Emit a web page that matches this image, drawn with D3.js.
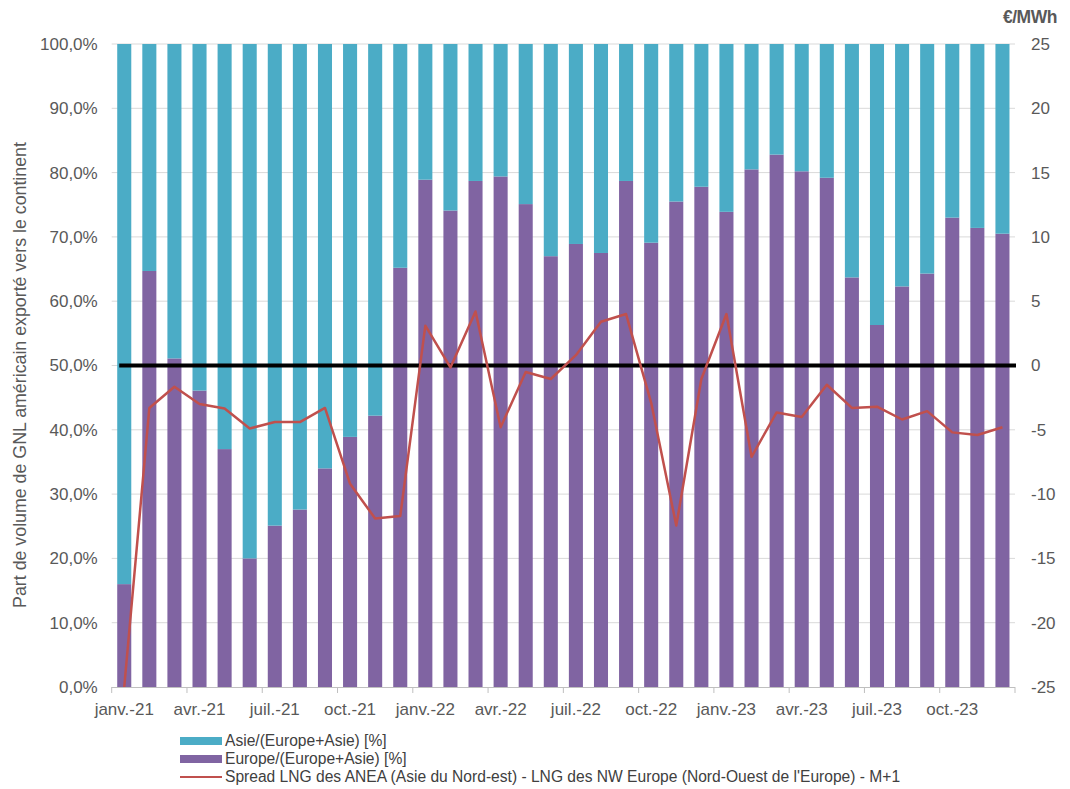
<!DOCTYPE html>
<html>
<head>
<meta charset="utf-8">
<script src="https://cdn.jsdelivr.net/npm/d3@7"></script>
<style>
  html, body { margin: 0; padding: 0; background: #fff; }
  svg { display: block; }
  .tick-label { font-family: "Liberation Sans", Arial, sans-serif; font-size: 17px; fill: #595959; }
  .legend-text { font-family: "Liberation Sans", Arial, sans-serif; font-size: 15.6px; fill: #404040; }
</style>
</head>
<body>
<svg id="chart" width="1070" height="789"></svg>
<script>
// Months (Jan 2021 – Dec 2023)
const months = [
  "janv.-21","févr.-21","mars-21","avr.-21","mai-21","juin-21","juil.-21","août-21","sept.-21","oct.-21","nov.-21","déc.-21",
  "janv.-22","févr.-22","mars-22","avr.-22","mai-22","juin-22","juil.-22","août-22","sept.-22","oct.-22","nov.-22","déc.-22",
  "janv.-23","févr.-23","mars-23","avr.-23","mai-23","juin-23","juil.-23","août-23","sept.-23","oct.-23","nov.-23","déc.-23"
];

// Europe share of US LNG exports (Europe + Asia), in %
const europeShare = [
  16.0, 64.7, 51.1, 46.1, 37.0, 20.0, 25.1, 27.6, 34.0, 38.9, 42.2, 65.2,
  78.9, 74.1, 78.7, 79.4, 75.1, 67.0, 68.9, 67.5, 78.7, 69.1, 75.5, 77.8,
  73.9, 80.5, 82.8, 80.2, 79.2, 63.7, 56.3, 62.3, 64.3, 73.0, 71.4, 70.5
];

// Asia share = complement to 100 %
const asiaShare = europeShare.map(v => 100 - v);

// Spread NE Asia LNG - NW Europe LNG, M+1, in €/MWh
const spread = [
  -25.0, -3.3, -1.65, -3.0, -3.35, -4.9, -4.4, -4.4, -3.3, -9.2, -11.9, -11.7,
  3.1, -0.15, 4.2, -4.8, -0.5, -1.05, 0.8, 3.4, 4.0, -2.9, -12.45, -1.05,
  4.0, -7.1, -3.65, -4.0, -1.5, -3.3, -3.2, -4.2, -3.55, -5.2, -5.4, -4.8
];

// Axis ticks
const leftTicks = [0, 10, 20, 30, 40, 50, 60, 70, 80, 90, 100];
const rightTicks = [-25, -20, -15, -10, -5, 0, 5, 10, 15, 20, 25];
const shownMonths = months.filter((m, i) => i % 3 === 0);

// Series labels
const seriesNames = [
  "Asie/(Europe+Asie) [%]",
  "Europe/(Europe+Asie) [%]",
  "Spread LNG des ANEA (Asie du Nord-est) - LNG des NW Europe (Nord-Ouest de l'Europe) - M+1"
];
const colors = { asia: "#4BACC6", europe: "#8064A2", spread: "#C0504D" };

const svg = d3.select("#chart");
const plot = { left: 111.7, right: 1015, top: 44, bottom: 687 };

const pad = 0.44;
const x = d3.scaleBand()
  .domain(months)
  .range([plot.left, plot.right])
  .paddingInner(pad)
  .paddingOuter(pad / 2);
const step = x.step();

const yLeft = d3.scaleLinear().domain([0, 100]).range([plot.bottom, plot.top]);
const yRight = d3.scaleLinear().domain([-25, 25]).range([plot.bottom, plot.top]);

// Horizontal gridlines
svg.append("g")
  .selectAll("line")
  .data(leftTicks.filter(t => t > 0))
  .join("line")
  .attr("x1", plot.left).attr("x2", plot.right)
  .attr("y1", d => yLeft(d)).attr("y2", d => yLeft(d))
  .attr("stroke", "#D9D9D9").attr("stroke-width", 1);

// Stacked bars
const rows = months.map((m, i) => ({ month: m, europe: europeShare[i], asia: asiaShare[i] }));
const stack = d3.stack().keys(["europe", "asia"])(rows);

svg.append("g")
  .selectAll("g")
  .data(stack)
  .join("g")
  .attr("fill", d => colors[d.key])
  .selectAll("rect")
  .data(d => d)
  .join("rect")
  .attr("x", d => x(d.data.month))
  .attr("width", x.bandwidth())
  .attr("y", d => yLeft(d[1]))
  .attr("height", d => yLeft(d[0]) - yLeft(d[1]));

// Bottom axis line and tick marks at every third month boundary
svg.append("line")
  .attr("x1", plot.left).attr("x2", plot.right)
  .attr("y1", plot.bottom + 0.5).attr("y2", plot.bottom + 0.5)
  .attr("stroke", "#BFBFBF").attr("stroke-width", 1);

const boundaryTicks = d3.range(0, months.length + 1, 3).map(i => plot.left + i * step);
svg.append("g")
  .selectAll("line")
  .data(boundaryTicks)
  .join("line")
  .attr("x1", d => d).attr("x2", d => d)
  .attr("y1", plot.bottom).attr("y2", plot.bottom + 6)
  .attr("stroke", "#BFBFBF").attr("stroke-width", 1);

// Month labels
const xAxis = d3.axisBottom(x).tickValues(shownMonths).tickSize(0).tickPadding(16);
const gx = svg.append("g").attr("transform", `translate(0,${plot.bottom})`).call(xAxis);
gx.select(".domain").remove();
gx.selectAll("text").attr("class", "tick-label").attr("font-family", null).attr("font-size", null);

// Left axis labels
const yAxisL = d3.axisLeft(yLeft).tickValues(leftTicks).tickSize(0).tickPadding(14)
  .tickFormat(d => d3.format(".1f")(d).replace(".", ",") + "%");
const gl = svg.append("g").attr("transform", `translate(${plot.left},0)`).call(yAxisL);
gl.select(".domain").remove();
gl.selectAll("text").attr("class", "tick-label").attr("font-family", null).attr("font-size", null);

// Right axis labels
const yAxisR = d3.axisRight(yRight).tickValues(rightTicks).tickSize(0).tickPadding(16)
  .tickFormat(d => String(d));
const gr = svg.append("g").attr("transform", `translate(${plot.right},0)`).call(yAxisR);
gr.select(".domain").remove();
gr.selectAll("text").attr("class", "tick-label").attr("font-family", null).attr("font-size", null);

// Right axis unit
svg.append("text")
  .attr("x", 1003).attr("y", 23)
  .attr("class", "tick-label")
  .attr("font-weight", "bold")
  .style("font-size", "17.5px")
  .style("letter-spacing", "-0.5px")
  .text("€/MWh");

// Left axis title
svg.append("text")
  .attr("transform", `translate(26,375) rotate(-90)`)
  .attr("text-anchor", "middle")
  .attr("class", "tick-label")
  .style("font-size", "17.8px")
  .text("Part de volume de GNL américain exporté vers le continent");

// Zero reference line
svg.append("line")
  .attr("x1", x(months[0]) + 2).attr("x2", plot.right + 1)
  .attr("y1", yRight(0)).attr("y2", yRight(0))
  .attr("stroke", "#000").attr("stroke-width", 4);

// Spread line
const line = d3.line()
  .x((d, i) => x(months[i]) + x.bandwidth() / 2)
  .y(d => yRight(d));
svg.append("path")
  .datum(spread)
  .attr("fill", "none")
  .attr("stroke", colors.spread)
  .attr("stroke-width", 2.5)
  .attr("stroke-linejoin", "round")
  .attr("d", line);

// Legend
const legend = svg.append("g").attr("transform", "translate(180,741)");
const legendItems = [
  { name: seriesNames[0], color: colors.asia, type: "bar" },
  { name: seriesNames[1], color: colors.europe, type: "bar" },
  { name: seriesNames[2], color: colors.spread, type: "line" }
];
const li = legend.selectAll("g").data(legendItems).join("g")
  .attr("transform", (d, i) => `translate(0,${i * 18})`);
li.filter(d => d.type === "bar").append("rect")
  .attr("x", 0).attr("y", -4).attr("width", 42).attr("height", 8)
  .attr("fill", d => d.color);
li.filter(d => d.type === "line").append("line")
  .attr("x1", 0).attr("x2", 42).attr("y1", 0).attr("y2", 0)
  .attr("stroke", d => d.color).attr("stroke-width", 2);
li.append("text")
  .attr("x", 45).attr("y", 0).attr("dy", "0.35em")
  .attr("class", "legend-text")
  .text(d => d.name);
</script>
</body>
</html>
